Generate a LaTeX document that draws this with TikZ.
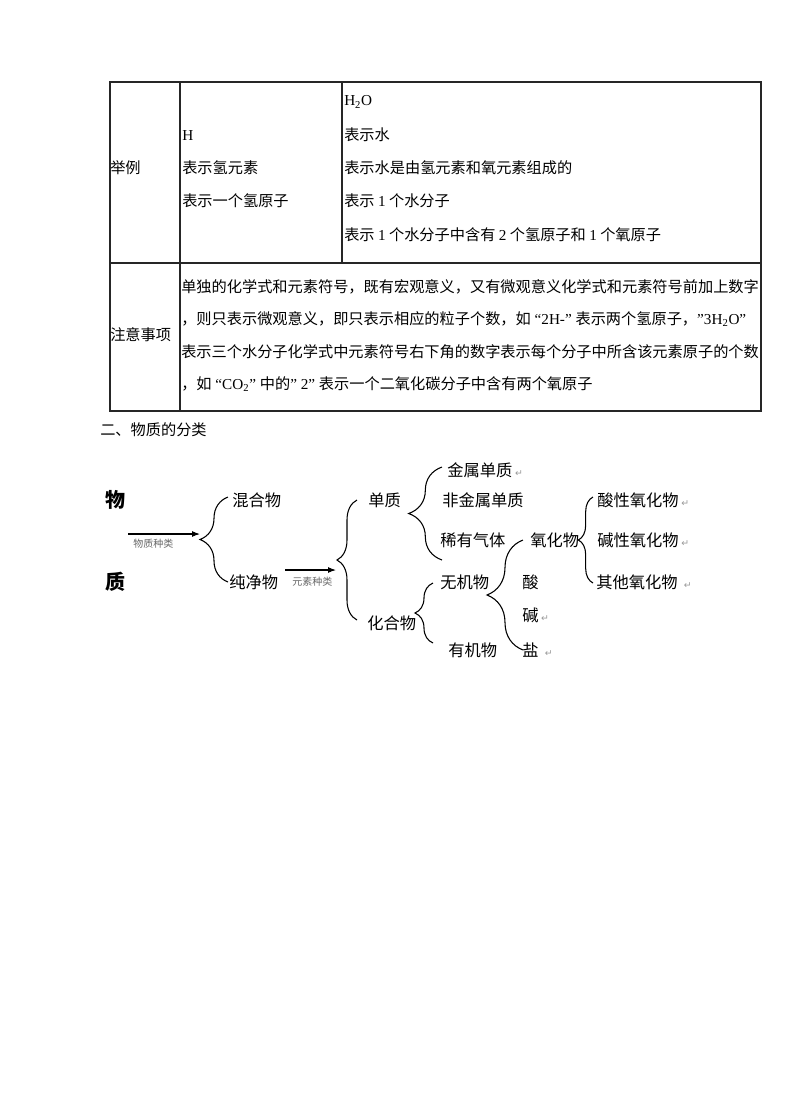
\documentclass[tikz,border=0pt]{standalone}
\usepackage{fontspec}
\setmainfont{Noto Sans CJK SC}
\newfontfamily\symfont{DejaVu Sans}
\newfontfamily\latfont{Liberation Serif}
\usetikzlibrary{decorations.pathreplacing,arrows.meta}

% looks of the page
\tikzset{
  cell/.style={anchor=west,inner sep=0pt,font=\fontsize{11.4pt}{12pt}\selectfont},
  item/.style={anchor=west,inner sep=0pt,font=\fontsize{12.2pt}{13pt}\selectfont},
  big/.style={anchor=west,inner sep=0pt,font=\fontsize{15pt}{16pt}\selectfont\bfseries},
  kind/.style={anchor=west,inner sep=0pt,text=black!60,font=\fontsize{7.5pt}{8pt}\selectfont},
  rule/.style={line width=1.1pt,black!85},
  brc/.style={decorate,decoration={brace,amplitude=#1},line width=0.8pt},
  arr/.style={-{Latex[length=6pt,width=4.5pt]},line width=0.8pt},
}
\newcommand{\retmark}{\,{\symfont\color{black!40}\fontsize{7pt}{8pt}\selectfont ↵}}
\newcommand{\lat}[1]{{\latfont #1}}

\begin{document}
\begin{tikzpicture}[x=0.75pt,y=-0.75pt]
  \fill[white] (0,0) rectangle (800,1108);
  \useasboundingbox (0,0) rectangle (800,1108);

  % table
  \draw[rule] (110,82) rectangle (761,411);
  \draw[rule] (180,82) -- (180,411);
  \draw[rule] (342,82) -- (342,263);
  \draw[rule] (110,263) -- (761,263);

  \node[cell] (eg) at (110,168) {举例};
  \node[cell] (hsym) at (182,136) {\lat{H}};
  \node[cell] (hmean1) at (182,168) {表示氢元素};
  \node[cell] (hmean2) at (182,201) {表示一个氢原子};
  \node[cell] (wsym) at (344,102) {\lat{H\textsubscript{2}O}};
  \node[cell] (wmean1) at (344,135) {表示水};
  \node[cell] (wmean2) at (344,168) {表示水是由氢元素和氧元素组成的};
  \node[cell] (wmean3) at (344,201) {表示 \lat{1} 个水分子};
  \node[cell] (wmean4) at (344,235) {表示 \lat{1} 个水分子中含有 \lat{2} 个氢原子和 \lat{1} 个氧原子};

  \node[cell] (note) at (110,335) {注意事项};
  \node[cell] (line1) at (181,287) {单独的化学式和元素符号，既有宏观意义，又有微观意义化学式和元素符号前加上数字};
  \node[cell] (line2) at (181,319) {，则只表示微观意义，即只表示相应的粒子个数，如\lat{ “2H-” }表示两个氢原子，\lat{”3H\textsubscript{2}O”}};
  \node[cell] (line3) at (181,352) {表示三个水分子化学式中元素符号右下角的数字表示每个分子中所含该元素原子的个数};
  \node[cell] (line4) at (181,384) {，如\lat{ “CO\textsubscript{2}” }中的\lat{” 2” }表示一个二氧化碳分子中含有两个氧原子};

  \node[cell] (sec) at (100,430) {二、物质的分类};

  % classification
  \node[big] (wu) at (105,500) {物};
  \node[big] (zhi) at (105,582) {质};
  \node[item] (hunhe) at (232,500) {混合物};
  \node[item] (chunjing) at (229,582) {纯净物};
  \node[item] (danzhi) at (368,500) {单质};
  \node[item] (huahe) at (367,623) {化合物};
  \node[item] (jinshu) at (447,470) {金属单质\retmark};
  \node[item] (feijinshu) at (442,500) {非金属单质};
  \node[item] (xiyou) at (440,540) {稀有气体};
  \node[item] (wuji) at (440,582) {无机物};
  \node[item] (youji) at (448,650) {有机物};
  \node[item] (yanghua) at (530,540) {氧化物};
  \node[item] (suan) at (522,582) {酸};
  \node[item] (jian) at (522,615) {碱\retmark};
  \node[item] (yan) at (522,650) {盐 \retmark};
  \node[item] (suanxing) at (597,500) {酸性氧化物\retmark};
  \node[item] (jianxing) at (597,540) {碱性氧化物\retmark};
  \node[item] (qita) at (596,582) {其他氧化物 \retmark};

  % braces, drawn bottom to top
  \draw[brc=21pt] (228,582) -- (228,497);
  \draw[brc=15pt] (357,620) -- (357,500);
  \draw[brc=25pt] (442,560) -- (442,467);
  \draw[brc=13.5pt] (433,643) -- (433,583);
  \draw[brc=27pt] (523,650) -- (523,540);
  \draw[brc=11pt] (593,583) -- (593,497);

  % arrows
  \coordinate (from1) at (128,534);
  \coordinate (tip1) at (200,534);
  \draw[arr] (from1) -- (tip1);
  \node[kind] (kind1) at (133,544) {物质种类};
  \coordinate (from2) at (285,570);
  \coordinate (tip2) at (336,570);
  \draw[arr] (from2) -- (tip2);
  \node[kind] (kind2) at (292,582) {元素种类};
\end{tikzpicture}
\end{document}
